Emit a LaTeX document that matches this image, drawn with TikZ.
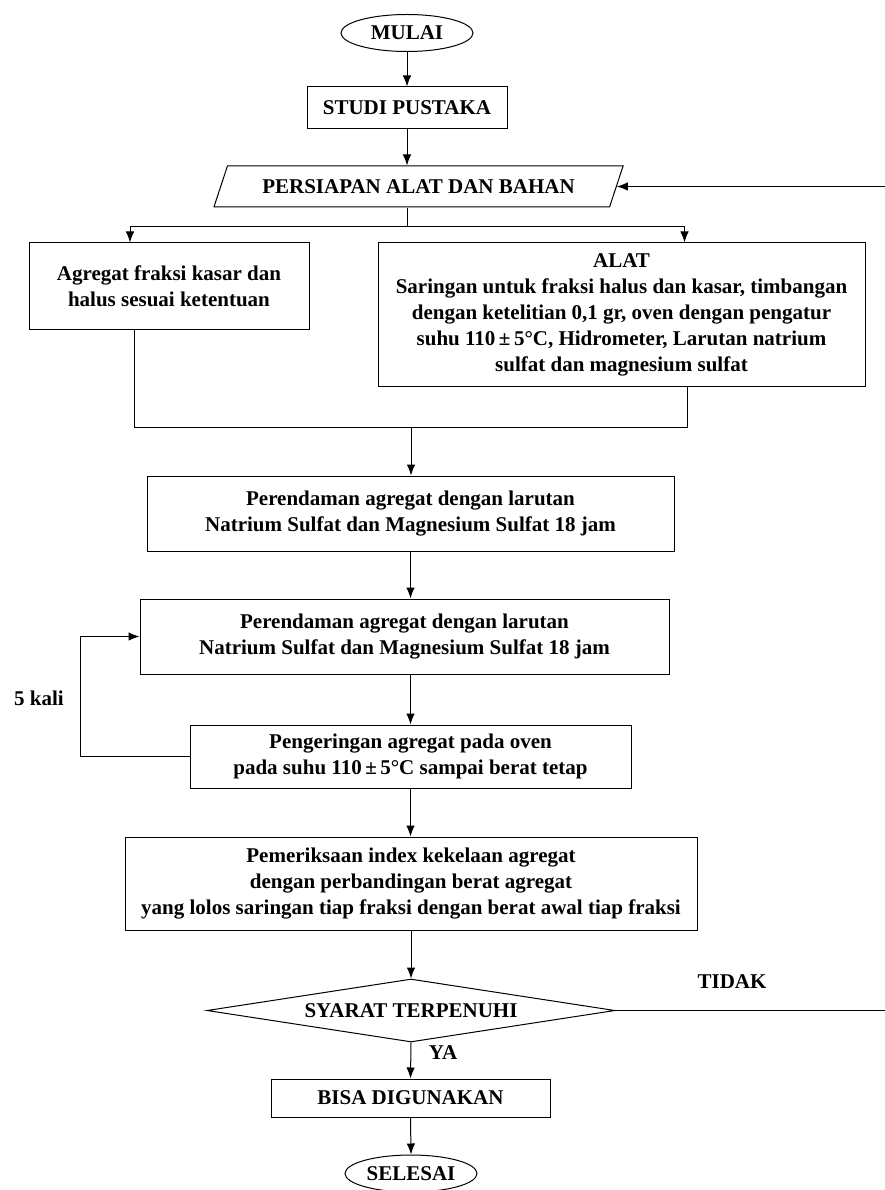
\documentclass[tikz,border=0pt]{standalone}
\usepackage{fontspec}
\setmainfont{Liberation Serif}
\usetikzlibrary{shapes,shapes.geometric,arrows.meta,positioning}
\tikzstyle{base} = [inner sep=0,align=center,font=\fontsize{21}{26}\selectfont\bfseries]
\tikzstyle{process} = [base,draw,line width=1pt,rectangle]
\tikzstyle{terminal} = [base,draw,line width=1pt,ellipse,minimum width=132,minimum height=37]
\tikzstyle{io} = [base,draw,line width=1pt,trapezium,trapezium left angle=52,trapezium right angle=128,trapezium stretches=true]
\tikzstyle{decision} = [base,draw,line width=1pt,diamond,aspect=6]
\tikzstyle{flow} = [-{Latex[length=11pt,width=8.5pt]},line width=1pt]
\tikzstyle{link} = [-,line width=1pt]
\tikzstyle{note} = [base]

\begin{document}
\begin{tikzpicture}[x=1pt,y=-1pt]
  \useasboundingbox (0,0) rectangle (885,1190);
  \node[terminal] (mulai) at (407,33) {MULAI};
  \node[process,minimum width=200,minimum height=42] (studi) at (407,108) {STUDI PUSTAKA};
  \node[io,minimum width=411,minimum height=41] (persiapan) at (418.5,186.5) {PERSIAPAN ALAT DAN BAHAN};
  \node[process,minimum width=280,minimum height=86] (agregat) at (169,286) {Agregat fraksi kasar dan\\halus sesuai ketentuan};
  \node[process,minimum width=487,minimum height=143] (alat) at (621.5,314.5) {ALAT\\Saringan untuk fraksi halus dan kasar, timbangan\\dengan ketelitian 0,1 gr, oven dengan pengatur\\suhu 110\,±\,5°C, Hidrometer, Larutan natrium\\sulfat dan magnesium sulfat};
  \node[process,minimum width=527,minimum height=75] (rendam1) at (410.5,513.5) {Perendaman agregat dengan larutan\\Natrium Sulfat dan Magnesium Sulfat 18 jam};
  \node[process,minimum width=529,minimum height=75] (rendam2) at (404.5,636.5) {Perendaman agregat dengan larutan\\Natrium Sulfat dan Magnesium Sulfat 18 jam};
  \node[process,minimum width=441,minimum height=63] (kering) at (410.5,756.5) {Pengeringan agregat pada oven\\pada suhu 110\,±\,5°C sampai berat tetap};
  \node[process,minimum width=572,minimum height=93] (periksa) at (411,883.5) {Pemeriksaan index kekelaan agregat\\dengan perbandingan berat agregat\\yang lolos saringan tiap fraksi dengan berat awal tiap fraksi};
  \node[decision,minimum width=408,minimum height=63] (syarat) at (411,1010.5) {SYARAT TERPENUHI};
  \node[process,minimum width=279,minimum height=38] (bisa) at (410.5,1098) {BISA DIGUNAKAN};
  \node[terminal] (selesai) at (411,1173.5) {SELESAI};
  \node[note] (kali) at (39,698) {5 kali};
  \node[note] (ya) at (443,1053) {YA};
  \node[note] (tidak) at (732,982) {TIDAK};
  \coordinate (cabang) at (407,227);
  \coordinate (gabung) at (411,427);
  \coordinate (balik) at (900,600);

  \draw[flow] (mulai) -- (studi);
  \draw[flow] (studi.south) -- (studi.south |- persiapan.north);
  \draw[link] (cabang |- persiapan.south) -- (cabang);
  \draw[flow] (cabang) -| ([xshift=-39]agregat.north);
  \draw[flow] (cabang) -| ([xshift=63]alat.north);
  \draw[link] ([xshift=-35]agregat.south) |- (gabung);
  \draw[link] ([xshift=65.5]alat.south) |- (gabung);
  \draw[flow] (gabung) -- (gabung |- rendam1.north);
  \draw[flow] (rendam1.south) -- (rendam1.south |- rendam2.north);
  \draw[flow] (rendam1.south |- rendam2.south) -- (rendam1.south |- kering.north);
  \draw[flow] (kering.west) -- ++(-109,0) |- (rendam2.west);
  \draw[flow] (kering.south) -- (kering.south |- periksa.north);
  \draw[flow] (periksa.south) -- (syarat.north);
  \draw[flow] (syarat.south) -- (bisa.north);
  \draw[flow] (bisa.south) -- (selesai.north);
  \draw[flow] (syarat.east) -- (syarat.east -| balik) |- (persiapan.east);
\end{tikzpicture}
\end{document}
